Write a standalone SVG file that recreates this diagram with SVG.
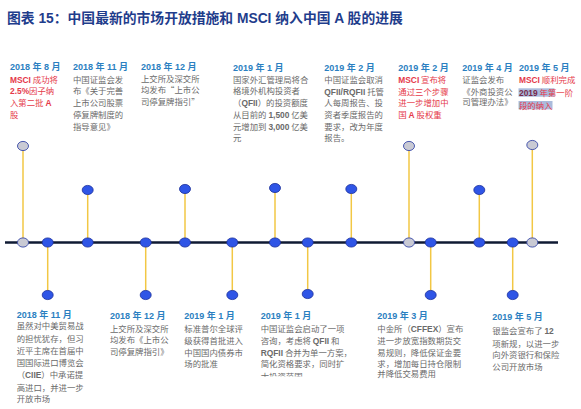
<svg xmlns="http://www.w3.org/2000/svg" width="581" height="409" viewBox="0 0 581 409">
<defs>
<style>
.t{font:bold 13.8px "Liberation Sans","Noto Sans CJK SC",sans-serif;fill:#1f3d8c}
.h{font:bold 9px "Liberation Sans","Noto Sans CJK SC",sans-serif;fill:#2b7fc1}
.b{font:8.4px "Noto Sans CJK SC",sans-serif;fill:#6a6a6a}
.r{fill:#e5394a}
.l{font-family:"Liberation Sans",sans-serif;font-weight:bold}
.c{stroke:#f2c744;stroke-width:1.5}
.dot{fill:#2f55e6;stroke:#1a2f9a;stroke-width:0.8}
.gd{fill:#c9cad4;stroke:#3949a8;stroke-width:0.9}
</style>
<clipPath id="cut"><rect x="0" y="0" width="581" height="376.5"/></clipPath>
</defs>
<rect width="581" height="409" fill="#ffffff"/>
<text class="t" x="7" y="23">图表 15：中国最新的市场开放措施和 MSCI 纳入中国 A 股的进展</text>

<g id="connectors">
<line x1="5" y1="242.5" x2="558" y2="242.5" stroke="#0f1a33" stroke-width="2.6"/>
<line class="c" x1="23" y1="146" x2="23" y2="242.5"/>
<line class="c" x1="87.7" y1="190" x2="87.7" y2="242.5"/>
<line class="c" x1="185" y1="189" x2="185" y2="242.5"/>
<line class="c" x1="275" y1="188" x2="275" y2="242.5"/>
<line class="c" x1="351.3" y1="189" x2="351.3" y2="242.5"/>
<line class="c" x1="409" y1="146" x2="409" y2="242.5"/>
<line class="c" x1="479.3" y1="190" x2="479.3" y2="242.5"/>
<line class="c" x1="532.3" y1="145" x2="532.3" y2="242.5"/>
<line class="c" x1="47.7" y1="242.5" x2="47.7" y2="295"/>
<line class="c" x1="145.7" y1="242.5" x2="145.7" y2="295"/>
<line class="c" x1="232.3" y1="242.5" x2="232.3" y2="295"/>
<line class="c" x1="307.7" y1="242.5" x2="307.7" y2="294"/>
<line class="c" x1="430.7" y1="242.5" x2="430.7" y2="295"/>
<line class="c" x1="512.7" y1="242.5" x2="512.7" y2="295"/>
</g>

<g id="t2018-08">
<ellipse class="gd" cx="23" cy="146" rx="5.5" ry="4.6"/>
<ellipse class="gd" cx="23" cy="242.5" rx="5.5" ry="4.6"/>
<text class="h" x="10" y="70">2018 年 8 月</text>
<text class="b r" x="10" y="82.5"><tspan class="l">MSCI</tspan> 成功将</text>
<text class="b r" x="10" y="94.2"><tspan class="l">2.5%</tspan>因子纳</text>
<text class="b r" x="10" y="106">入第二批 <tspan class="l">A</tspan></text>
<text class="b r" x="10" y="117.7">股</text>
</g>

<g id="t2018-11">
<ellipse class="dot" cx="87.7" cy="190" rx="5.5" ry="4.6"/>
<ellipse class="dot" cx="87.7" cy="242.5" rx="5.5" ry="4.6"/>
<text class="h" x="73" y="70">2018 年 11 月</text>
<text class="b" x="73" y="82.5">中国证监会发</text>
<text class="b" x="73" y="94.2">布《关于完善</text>
<text class="b" x="73" y="106">上市公司股票</text>
<text class="b" x="73" y="117.7">停复牌制度的</text>
<text class="b" x="73" y="129.5">指导意见》</text>
</g>

<g id="t2018-12">
<ellipse class="dot" cx="185" cy="189" rx="5.5" ry="4.6"/>
<ellipse class="dot" cx="185" cy="242.5" rx="5.5" ry="4.6"/>
<text class="h" x="141" y="70">2018 年 12 月</text>
<text class="b" x="141" y="81.5">上交所及深交所</text>
<text class="b" x="141" y="93.3">均发布“上市公</text>
<text class="b" x="141" y="105">司停复牌指引”</text>
</g>

<g id="t2019-01a">
<ellipse class="dot" cx="275" cy="188" rx="5.5" ry="4.6"/>
<ellipse class="dot" cx="275" cy="242.5" rx="5.5" ry="4.6"/>
<text class="h" x="233" y="70.5">2019 年 1 月</text>
<text class="b" x="233" y="82.5">国家外汇管理局将合</text>
<text class="b" x="233" y="94.2">格境外机构投资者</text>
<text class="b" x="233" y="106">（<tspan class="l">QFII</tspan>）的投资额度</text>
<text class="b" x="233" y="117.7">从目前的 <tspan class="l">1,500</tspan> 亿美</text>
<text class="b" x="233" y="129.5">元增加到 <tspan class="l">3,000</tspan> 亿美</text>
<text class="b" x="233" y="141.2">元</text>
</g>

<g id="t2019-02a">
<ellipse class="dot" cx="351.3" cy="189" rx="5.5" ry="4.6"/>
<ellipse class="dot" cx="351.3" cy="242.5" rx="5.5" ry="4.6"/>
<text class="h" x="324.3" y="70.5">2019 年 2 月</text>
<text class="b" x="324.3" y="83">中国证监会取消</text>
<text class="b" x="324.3" y="94.8"><tspan class="l">QFII/RQFII</tspan> 托管</text>
<text class="b" x="324.3" y="106.3">人每周报告、投</text>
<text class="b" x="324.3" y="118">资者季度报告的</text>
<text class="b" x="324.3" y="129.8">要求，改为年度</text>
<text class="b" x="324.3" y="141.3">报告。</text>
</g>

<g id="t2019-02b">
<ellipse class="gd" cx="409" cy="146" rx="5.5" ry="4.6"/>
<ellipse class="gd" cx="409" cy="242.5" rx="5.5" ry="4.6"/>
<text class="h" x="398.3" y="70.5">2019 年 2 月</text>
<text class="b r" x="398.3" y="83"><tspan class="l">MSCI</tspan> 宣布将</text>
<text class="b r" x="398.3" y="94.8">通过三个步骤</text>
<text class="b r" x="398.3" y="106.3">进一步增加中</text>
<text class="b r" x="398.3" y="118">国 <tspan class="l">A</tspan> 股权重</text>
</g>

<g id="t2019-04">
<ellipse class="dot" cx="479.3" cy="190" rx="5.5" ry="4.6"/>
<ellipse class="dot" cx="479.3" cy="242.5" rx="5.5" ry="4.6"/>
<text class="h" x="462.3" y="71">2019 年 4 月</text>
<text class="b" x="462.3" y="83.2">证监会发布</text>
<text class="b" x="462.3" y="94.5">《外商投资公</text>
<text class="b" x="462.3" y="105">司管理办法》</text>
</g>

<g id="t2019-05a">
<ellipse class="gd" cx="532.3" cy="145" rx="5.5" ry="4.6"/>
<ellipse class="gd" cx="532.3" cy="242.5" rx="5.5" ry="4.6"/>
<rect x="518.5" y="88.3" width="36" height="8.4" fill="#aabbdc"/>
<rect x="518.5" y="101" width="34" height="8.4" fill="#aabbdc"/>
<text class="h" x="519" y="71">2019 年 5 月</text>
<text class="b r" x="519" y="83.2"><tspan class="l">MSCI</tspan> 顺利完成</text>
<text class="b r" x="519" y="95.8"><tspan class="l" fill="#7a2a4a">2019</tspan> 年第一阶</text>
<text class="b r" x="519" y="108.5">段的纳入</text>
</g>

<g id="b2018-11">
<ellipse class="dot" cx="47.7" cy="242.5" rx="5.5" ry="4.6"/>
<ellipse class="dot" cx="47.7" cy="295" rx="5.5" ry="4.6"/>
<text class="h" x="16.7" y="318.3">2018 年 11 月</text>
<text class="b" x="16.7" y="329">虽然对中美贸易战</text>
<text class="b" x="16.7" y="341.5">的担忧犹存，但习</text>
<text class="b" x="16.7" y="354">近平主席在首届中</text>
<text class="b" x="16.7" y="366">国国际进口博览会</text>
<text class="b" x="16.7" y="378">（<tspan class="l">CIIE</tspan>）中承诺提</text>
<text class="b" x="16.7" y="390.5">高进口，并进一步</text>
<text class="b" x="16.7" y="402">开放市场</text>
</g>

<g id="b2018-12">
<ellipse class="dot" cx="145.7" cy="242.5" rx="5.5" ry="4.6"/>
<ellipse class="dot" cx="145.7" cy="295" rx="5.5" ry="4.6"/>
<text class="h" x="110" y="319.3">2018 年 12 月</text>
<text class="b" x="110" y="331.5">上交所及深交所</text>
<text class="b" x="110" y="343.3">均发布《上市公</text>
<text class="b" x="110" y="355">司停复牌指引》</text>
</g>

<g id="b2019-01a">
<ellipse class="dot" cx="232.3" cy="242.5" rx="5.5" ry="4.6"/>
<ellipse class="dot" cx="232.3" cy="295" rx="5.5" ry="4.6"/>
<text class="h" x="184.3" y="319">2019 年 1 月</text>
<text class="b" x="184.3" y="331.5">标准普尔全球评</text>
<text class="b" x="184.3" y="344">级获得首批进入</text>
<text class="b" x="184.3" y="355.5">中国国内债券市</text>
<text class="b" x="184.3" y="367.3">场的批准</text>
</g>

<g id="b2019-01b">
<ellipse class="dot" cx="307.7" cy="242.5" rx="5.5" ry="4.6"/>
<ellipse class="dot" cx="307.7" cy="294" rx="5.5" ry="4.6"/>
<text class="h" x="260.7" y="319">2019 年 1 月</text>
<text class="b" x="260.7" y="331.5">中国证监会启动了一项</text>
<text class="b" x="260.7" y="344">咨询，考虑将 <tspan class="l">QFII</tspan> 和</text>
<text class="b" x="260.7" y="355.5"><tspan class="l">RQFII</tspan> 合并为单一方案，</text>
<text class="b" x="260.7" y="367.3">简化资格要求，同时扩</text>
<text class="b" x="260.7" y="379.5" clip-path="url(#cut)">大投资范围</text>
</g>

<g id="b2019-03">
<ellipse class="dot" cx="430.7" cy="242.5" rx="5.5" ry="4.6"/>
<ellipse class="dot" cx="430.7" cy="295" rx="5.5" ry="4.6"/>
<text class="h" x="377.3" y="319">2019 年 3 月</text>
<text class="b" x="377.3" y="331.5">中金所（<tspan class="l">CFFEX</tspan>）宣布</text>
<text class="b" x="377.3" y="344">进一步放宽指数期货交</text>
<text class="b" x="377.3" y="355.5">易规则，降低保证金要</text>
<text class="b" x="377.3" y="366.5">求，增加每日持仓限制</text>
<text class="b" x="377.3" y="377.3">并降低交易费用</text>
</g>

<g id="b2019-05">
<ellipse class="dot" cx="512.7" cy="242.5" rx="5.5" ry="4.6"/>
<ellipse class="dot" cx="512.7" cy="295" rx="5.5" ry="4.6"/>
<text class="h" x="492.3" y="320">2019 年 5 月</text>
<text class="b" x="492.3" y="334">银监会宣布了 <tspan class="l">12</tspan></text>
<text class="b" x="492.3" y="346.5">项新规，以进一步</text>
<text class="b" x="492.3" y="358.2">向外资银行和保险</text>
<text class="b" x="492.3" y="370">公司开放市场</text>
</g>
</svg>
